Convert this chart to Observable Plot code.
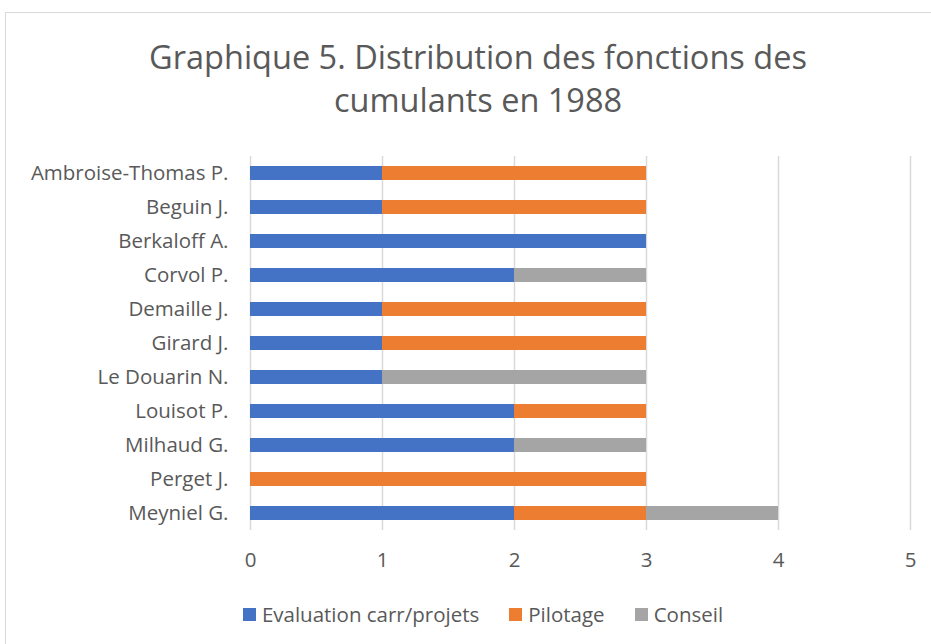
<!DOCTYPE html>
<html>
<head>
<meta charset="utf-8">
<script src="https://cdn.jsdelivr.net/npm/d3@7"></script>
<script src="https://cdn.jsdelivr.net/npm/@observablehq/plot@0.6"></script>
<style>
  html, body { margin: 0; padding: 0; background: #fff; width: 931px; height: 644px; overflow: hidden; }
  #frame { position: absolute; left: 5px; top: 12px; width: 940px; height: 660px; border: 1.5px solid #d9d9d9; box-sizing: border-box; }
  #title { position: absolute; left: 0; width: 956px; top: 35px; text-align: center; font-family: "Open Sans", sans-serif; font-size: 32.5px; line-height: 43px; color: #595959; }
  #chart { position: absolute; left: 0; top: 140px; }
  #legend { position: absolute; left: 0; width: 966px; top: 600px; display: flex; justify-content: center; gap: 30px; font-family: "Open Sans", sans-serif; font-size: 20.5px; color: #595959; }
  #legend .item { display: flex; align-items: center; gap: 6px; }
  #legend .sw { width: 13px; height: 13px; display: inline-block; }
</style>
</head>
<body>
<div id="frame"></div>
<div id="title">Graphique 5. Distribution des fonctions des<br>cumulants en 1988</div>
<div id="chart"></div>
<div id="legend"></div>
<script>
const names = ["Ambroise-Thomas P.", "Beguin J.", "Berkaloff A.", "Corvol P.", "Demaille J.", "Girard J.", "Le Douarin N.", "Louisot P.", "Milhaud G.", "Perget J.", "Meyniel G."];
const seriesNames = ["Evaluation carr/projets", "Pilotage", "Conseil"];
const evaluation = [1, 1, 3, 2, 1, 1, 1, 2, 2, 0, 2];
const pilotage   = [2, 2, 0, 0, 2, 2, 0, 1, 0, 3, 1];
const conseil    = [0, 0, 0, 1, 0, 0, 2, 0, 1, 0, 1];
const colors = ["#4472c4", "#ed7d31", "#a5a5a5"];
const xTicks = [0, 1, 2, 3, 4, 5];

const series = [evaluation, pilotage, conseil];
const data = [];
names.forEach((n, i) => {
  series.forEach((arr, s) => {
    data.push({ name: n, series: seriesNames[s], value: arr[i] });
  });
});

const chart = Plot.plot({
  width: 931,
  height: 450,
  marginLeft: 250,
  marginRight: 21,
  marginTop: 16,
  marginBottom: 60,
  style: { fontFamily: "'Open Sans', sans-serif", fontSize: "20.5px", color: "#595959", background: "transparent" },
  x: { domain: [0, 5], ticks: xTicks, tickFormat: d3.format("d"), tickSize: 0, tickPadding: 22, label: null },
  y: { domain: names, paddingInner: 0.59, paddingOuter: 0.295, tickSize: 0, tickPadding: 22, label: null },
  color: { domain: seriesNames, range: colors },
  marks: [
    Plot.gridX(xTicks, { stroke: "#d9d9d9", strokeOpacity: 1, strokeWidth: 1.5 }),
    Plot.barX(data, Plot.stackX({ x: "value", y: "name", fill: "series", order: seriesNames }))
  ]
});
document.getElementById("chart").appendChild(chart);

const legend = document.getElementById("legend");
seriesNames.forEach((s, i) => {
  const it = document.createElement("div");
  it.className = "item";
  const sw = document.createElement("span");
  sw.className = "sw";
  sw.style.background = colors[i];
  const t = document.createElement("span");
  t.textContent = s;
  it.appendChild(sw);
  it.appendChild(t);
  legend.appendChild(it);
});
</script>
</body>
</html>
